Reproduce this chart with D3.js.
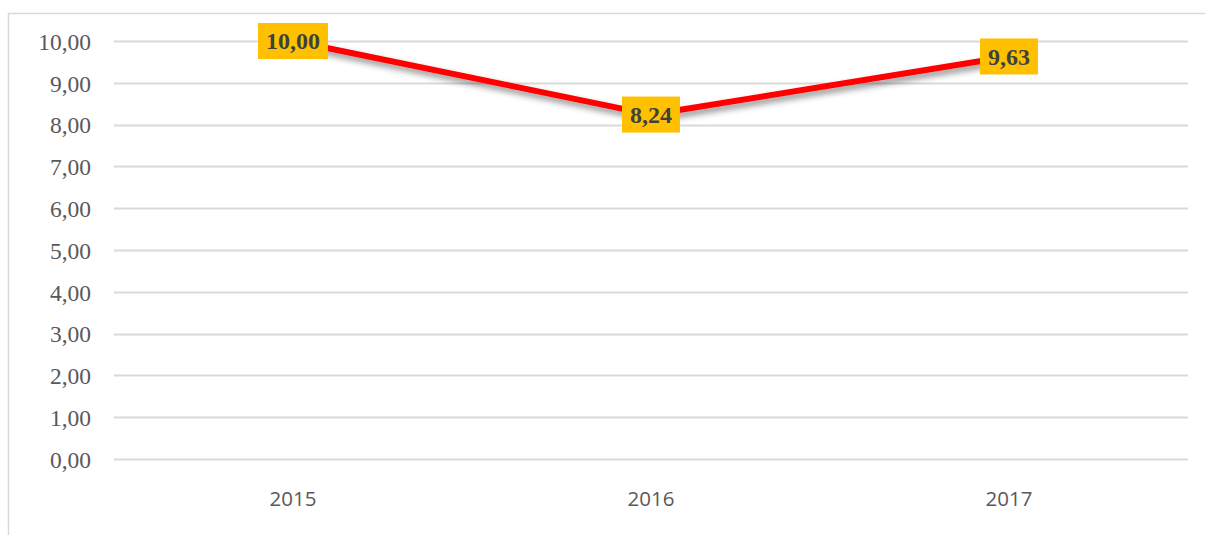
<!DOCTYPE html>
<html>
<head>
<meta charset="utf-8">
<script src="https://cdn.jsdelivr.net/npm/d3@7"></script>
<style>
  html, body { margin: 0; padding: 0; background: #fff; }
  svg { display: block; }
</style>
</head>
<body>
<div id="chart"></div>
<script>
const years  = ['2015', '2016', '2017'];
const values = [10.00, 8.24, 9.63];
const yTicks = [0, 1, 2, 3, 4, 5, 6, 7, 8, 9, 10];

const widthContainer  = 1205;
const heightContainer = 535;
const margin = {top: 41, right: 17, bottom: 76, left: 114};

const fmt = v => d3.format('.2f')(v).replace('.', ',');

let svg = d3.select('#chart')
  .append('svg')
  .attr('width', widthContainer)
  .attr('height', heightContainer);

// drop shadow for the line
let defs = svg.append('defs');
let filter = defs.append('filter')
  .attr('id', 'shadow')
  .attr('x', '-10%').attr('y', '-50%')
  .attr('width', '120%').attr('height', '200%');
filter.append('feDropShadow')
  .attr('dx', 2).attr('dy', 4)
  .attr('stdDeviation', 3)
  .attr('flood-color', '#000')
  .attr('flood-opacity', 0.45);

// chart frame
svg.append('rect')
  .attr('x', 8.5)
  .attr('y', 13.5)
  .attr('width', 1220)
  .attr('height', 560)
  .attr('fill', 'none')
  .attr('stroke', '#d9d9d9')
  .attr('stroke-width', 1.5);

let xScale = d3.scaleBand()
  .domain(years)
  .range([margin.left, widthContainer - margin.right]);

let yScale = d3.scaleLinear()
  .domain([0, 10])
  .range([heightContainer - margin.bottom, margin.top]);

// gridlines
svg.append('g')
  .selectAll('line')
  .data(yTicks)
  .enter()
  .append('line')
    .attr('x1', margin.left)
    .attr('x2', widthContainer - margin.right)
    .attr('y1', d => Math.round(yScale(d)) + 0.5)
    .attr('y2', d => Math.round(yScale(d)) + 0.5)
    .attr('stroke', '#d9d9d9')
    .attr('stroke-width', 2);

// y-axis
let yAxis = svg.append('g')
  .attr('class', 'y-axis')
  .attr('transform', `translate(${margin.left - 23}, 0)`)
  .call(d3.axisLeft(yScale).tickValues(yTicks).tickFormat(fmt).tickSize(0));
yAxis.select('.domain').remove();
yAxis.selectAll('text')
  .attr('x', 0)
  .attr('dy', '0.35em')
  .style('font-family', '"Liberation Serif", "Times New Roman", serif')
  .style('font-size', '23.5px')
  .style('fill', '#595959');

// x-axis
let xAxis = svg.append('g')
  .attr('class', 'x-axis')
  .attr('transform', `translate(0, ${heightContainer - margin.bottom})`)
  .call(d3.axisBottom(xScale).tickSize(0));
xAxis.select('.domain').remove();
xAxis.selectAll('text')
  .attr('y', 40)
  .attr('dy', '0.35em')
  .style('font-family', '"Open Sans", "Liberation Sans", sans-serif')
  .style('font-size', '20.5px')
  .style('fill', '#595959');

const points = years.map((y, i) => ({year: y, value: values[i]}));

let line = d3.line()
  .x(d => xScale(d.year) + xScale.bandwidth() / 2)
  .y(d => yScale(d.value));

svg.append('path')
  .datum(points)
  .attr('d', line)
  .attr('fill', 'none')
  .attr('stroke', '#ff0000')
  .attr('stroke-width', 6)
  .attr('stroke-linejoin', 'round')
  .attr('filter', 'url(#shadow)');

// data labels
let labels = svg.append('g')
  .selectAll('g')
  .data(points)
  .enter()
  .append('g')
    .attr('transform', d => `translate(${xScale(d.year) + xScale.bandwidth() / 2}, ${yScale(d.value)})`);

labels.append('text')
  .attr('text-anchor', 'middle')
  .attr('dy', '0.35em')
  .style('font-family', '"Liberation Serif", "Times New Roman", serif')
  .style('font-weight', 'bold')
  .style('font-size', '24px')
  .style('fill', '#404040')
  .text(d => fmt(d.value));

labels.each(function() {
  const g = d3.select(this);
  const bb = g.select('text').node().getBBox();
  g.insert('rect', 'text')
    .attr('x', bb.x - 8)
    .attr('y', -18)
    .attr('width', bb.width + 16)
    .attr('height', 36)
    .attr('fill', '#ffc000');
});
</script>
</body>
</html>
